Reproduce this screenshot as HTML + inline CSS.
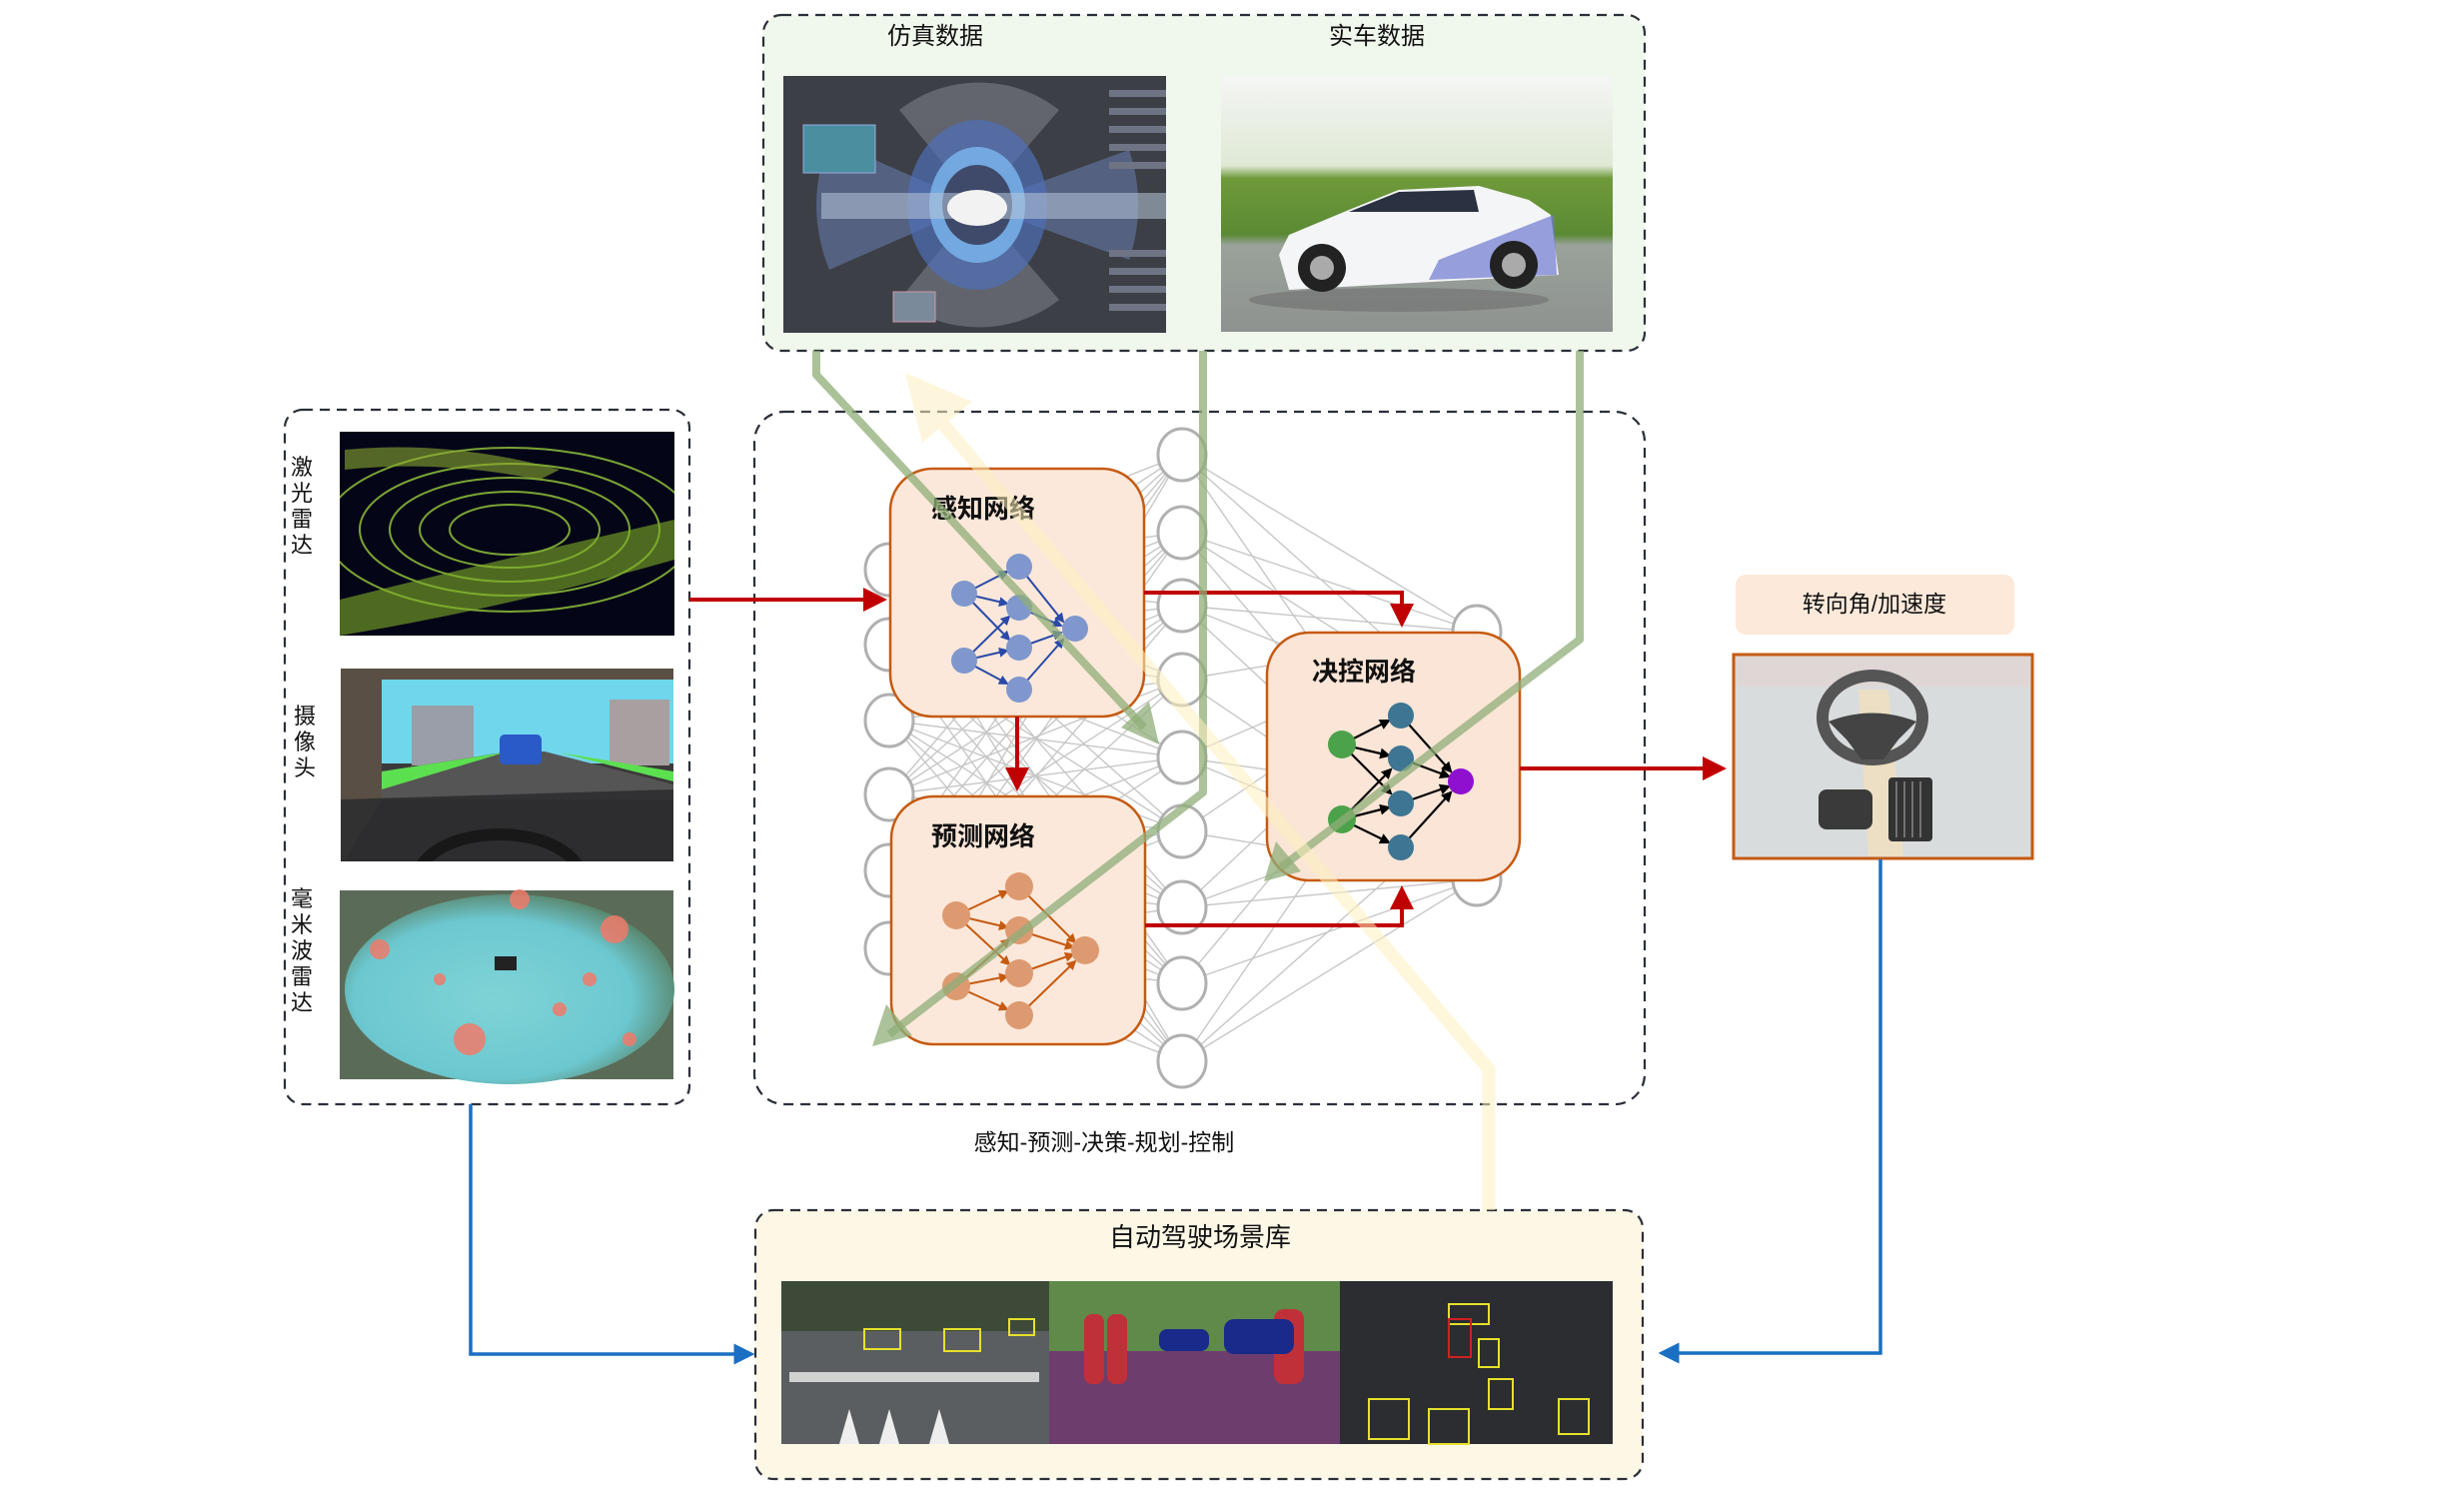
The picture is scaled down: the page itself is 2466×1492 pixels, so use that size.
<!DOCTYPE html>
<html><head><meta charset="utf-8"><style>
html,body{margin:0;padding:0;background:#fff;}
svg{display:block;}
text{font-family:"Liberation Sans","Noto Sans CJK SC",sans-serif;}
</style></head><body>
<svg width="2466" height="1492" viewBox="0 0 2466 1492" xmlns="http://www.w3.org/2000/svg">
<defs>
<marker id="ar" markerWidth="6" markerHeight="6" refX="5" refY="3" orient="auto" markerUnits="strokeWidth"><path d="M0,0 L6,3 L0,6 z" fill="#c00000"/></marker>
<marker id="ab" markerWidth="6" markerHeight="6" refX="5" refY="3" orient="auto" markerUnits="strokeWidth"><path d="M0,0 L6,3 L0,6 z" fill="#1a6fc4"/></marker>
<marker id="an" markerWidth="5" markerHeight="5" refX="4" refY="2.5" orient="auto" markerUnits="strokeWidth"><path d="M0,0 L5,2.5 L0,5 z" fill="context-stroke"/></marker>
<radialGradient id="radar" cx="0.45" cy="0.55" r="0.6"><stop offset="0" stop-color="#7fd3d6"/><stop offset="0.7" stop-color="#6cc8d0"/><stop offset="1" stop-color="#557a5a"/></radialGradient>
<linearGradient id="sky" x1="0" y1="0" x2="0" y2="1"><stop offset="0" stop-color="#f4f6f4"/><stop offset="0.35" stop-color="#dfe9d6"/><stop offset="0.4" stop-color="#6f9a3a"/><stop offset="0.62" stop-color="#5b8a34"/><stop offset="0.66" stop-color="#9aa29a"/><stop offset="1" stop-color="#8e9290"/></linearGradient>
<clipPath id="cl"><rect x="340" y="432" width="335" height="204"/></clipPath>
<clipPath id="cc"><rect x="341" y="669" width="333" height="193"/></clipPath>
<clipPath id="cs"><rect x="784" y="76" width="383" height="257"/></clipPath>
</defs>

<!-- top box -->
<rect x="764" y="15" width="882" height="336" rx="18" fill="#f0f7ec" stroke="#2b2f38" stroke-width="2.2" stroke-dasharray="10,7"/>
<text x="936" y="44" font-size="24" text-anchor="middle" fill="#111">仿真数据</text>
<text x="1378" y="44" font-size="24" text-anchor="middle" fill="#111">实车数据</text>
<!-- sim image -->
<g clip-path="url(#cs)">
<rect x="784" y="76" width="383" height="257" fill="#3c3f45"/>
<g opacity="0.8">
<path d="M978,205 L900,110 A130,130 0 0 1 1060,110 Z" fill="#6b6e78"/>
<path d="M978,205 L900,300 A130,130 0 0 0 1060,300 Z" fill="#6b6e78"/>
<path d="M978,205 L830,140 A170,170 0 0 0 830,270 Z" fill="#5a6a90"/>
<path d="M978,205 L1130,150 A170,170 0 0 1 1130,260 Z" fill="#5a6a90"/>
</g>
<ellipse cx="978" cy="205" rx="70" ry="85" fill="#4f6fb8" opacity="0.7"/>
<ellipse cx="978" cy="205" rx="48" ry="58" fill="#7cb8f0" opacity="0.8"/>
<ellipse cx="978" cy="205" rx="35" ry="40" fill="#3f4a6a"/>
<rect x="822" y="193" width="350" height="26" fill="#b8c6d8" opacity="0.55"/>
<ellipse cx="978" cy="208" rx="30" ry="18" fill="#f2f2f2"/>
<rect x="804" y="125" width="72" height="48" fill="#4a8ea0" stroke="#9ad" stroke-width="1"/>
<rect x="894" y="292" width="42" height="30" fill="#7a8a9a" stroke="#c9a" stroke-width="1"/>
<g fill="#6f7485"><rect x="1110" y="90" width="62" height="7"/><rect x="1110" y="108" width="62" height="7"/><rect x="1110" y="126" width="62" height="7"/><rect x="1110" y="144" width="62" height="7"/><rect x="1110" y="162" width="62" height="7"/><rect x="1110" y="250" width="62" height="7"/><rect x="1110" y="268" width="62" height="7"/><rect x="1110" y="286" width="62" height="7"/><rect x="1110" y="304" width="62" height="7"/></g>
</g>
<!-- real image -->
<rect x="1222" y="76" width="392" height="256" fill="url(#sky)"/>
<ellipse cx="1400" cy="300" rx="150" ry="12" fill="#666" opacity="0.5"/>
<path d="M1280,255 L1290,235 L1350,210 L1400,190 L1480,186 L1530,200 L1552,215 L1560,275 L1290,290 Z" fill="#f4f5f7"/>
<path d="M1350,212 L1400,192 L1475,190 L1480,212 Z" fill="#2a3140"/>
<path d="M1440,260 L1555,215 L1558,275 L1430,280 Z" fill="#6d79d0" opacity="0.7"/>
<circle cx="1323" cy="268" r="24" fill="#222"/><circle cx="1323" cy="268" r="12" fill="#aaa"/>
<circle cx="1515" cy="265" r="24" fill="#222"/><circle cx="1515" cy="265" r="12" fill="#aaa"/>

<!-- left box -->
<rect x="285" y="410" width="405" height="695" rx="18" fill="none" stroke="#2b2f38" stroke-width="2.2" stroke-dasharray="10,7"/>
<g font-size="22" fill="#111" text-anchor="middle">
<text x="302" y="475">激</text><text x="302" y="501">光</text><text x="302" y="527">雷</text><text x="302" y="553">达</text>
<text x="305" y="724">摄</text><text x="305" y="750">像</text><text x="305" y="776">头</text>
<text x="302" y="907">毫</text><text x="302" y="933">米</text><text x="302" y="959">波</text><text x="302" y="985">雷</text><text x="302" y="1011">达</text>
</g>
<!-- lidar -->
<g clip-path="url(#cl)">
<rect x="340" y="432" width="335" height="204" fill="#050518"/>
<g fill="none" stroke="#8fc23a" stroke-width="2" opacity="0.85">
<ellipse cx="510" cy="530" rx="60" ry="25"/><ellipse cx="510" cy="530" rx="90" ry="38"/><ellipse cx="510" cy="530" rx="120" ry="52"/><ellipse cx="510" cy="530" rx="150" ry="66"/><ellipse cx="510" cy="530" rx="185" ry="82"/>
</g>
<ellipse cx="510" cy="530" rx="48" ry="20" fill="#050518"/>
<path d="M340,600 Q500,560 675,520 L675,560 Q500,610 340,636 Z" fill="#7fae28" opacity="0.6"/>
<path d="M345,450 Q450,440 560,470 L540,480 Q440,460 345,470 Z" fill="#8aa830" opacity="0.6"/>
</g>
<!-- camera -->
<g clip-path="url(#cc)">
<rect x="341" y="669" width="333" height="193" fill="#3a3a3a"/>
<rect x="382" y="679" width="292" height="85" fill="#70d6ec"/>
<rect x="412" y="706" width="62" height="60" fill="#9a9ea8"/><rect x="610" y="700" width="60" height="66" fill="#a8a0a0"/>
<path d="M382,772 L510,752 L545,752 L674,785 L674,800 L382,800 Z" fill="#555"/>
<path d="M382,772 L505,753 L382,790 Z" fill="#5ce050"/><path d="M560,753 L674,772 L674,782 Z" fill="#5ce050"/>
<rect x="500" y="735" width="42" height="30" rx="5" fill="#2a5ac8"/>
<path d="M341,669 L674,669 L674,680 L382,680 L382,800 L345,860 L341,860 Z" fill="#5a4f44"/>
<path d="M341,800 L674,790 L674,862 L341,862 Z" fill="#2c2c2e" opacity="0.85"/>
<ellipse cx="500" cy="880" rx="82" ry="45" fill="none" stroke="#181818" stroke-width="12"/>
</g>
<!-- radar -->
<rect x="340" y="891" width="334" height="189" fill="#5a6c58"/>
<ellipse cx="510" cy="990" rx="165" ry="95" fill="url(#radar)"/>
<g fill="#f07a6a" opacity="0.85"><circle cx="470" cy="1040" r="16"/><circle cx="520" cy="900" r="10"/><circle cx="615" cy="930" r="14"/><circle cx="380" cy="950" r="10"/><circle cx="560" cy="1010" r="7"/><circle cx="590" cy="980" r="7"/><circle cx="630" cy="1040" r="7"/><circle cx="440" cy="980" r="6"/></g>
<rect x="495" y="957" width="22" height="14" fill="#222"/>

<!-- middle box -->
<rect x="755" y="412" width="891" height="693" rx="30" fill="none" stroke="#2b2f38" stroke-width="2.2" stroke-dasharray="10,7"/>
<!-- background neural net -->
<g stroke="#b5b5b5" stroke-width="1.4" opacity="0.75" fill="none">
<path d="M890,570 L1183,455 M890,570 L1183,533 M890,570 L1183,606 M890,570 L1183,680 M890,570 L1183,758 M890,570 L1183,832 M890,570 L1183,908 M890,570 L1183,984 M890,570 L1183,1062"/>
<path d="M890,645 L1183,455 M890,645 L1183,533 M890,645 L1183,606 M890,645 L1183,680 M890,645 L1183,758 M890,645 L1183,832 M890,645 L1183,908 M890,645 L1183,984 M890,645 L1183,1062"/>
<path d="M890,721 L1183,455 M890,721 L1183,533 M890,721 L1183,606 M890,721 L1183,680 M890,721 L1183,758 M890,721 L1183,832 M890,721 L1183,908 M890,721 L1183,984 M890,721 L1183,1062"/>
<path d="M890,795 L1183,455 M890,795 L1183,533 M890,795 L1183,606 M890,795 L1183,680 M890,795 L1183,758 M890,795 L1183,832 M890,795 L1183,908 M890,795 L1183,984 M890,795 L1183,1062"/>
<path d="M890,871 L1183,455 M890,871 L1183,533 M890,871 L1183,606 M890,871 L1183,680 M890,871 L1183,758 M890,871 L1183,832 M890,871 L1183,908 M890,871 L1183,984 M890,871 L1183,1062"/>
<path d="M890,949 L1183,455 M890,949 L1183,533 M890,949 L1183,606 M890,949 L1183,680 M890,949 L1183,758 M890,949 L1183,832 M890,949 L1183,908 M890,949 L1183,984 M890,949 L1183,1062"/>
<path d="M1183,455 L1478,632 M1183,533 L1478,632 M1183,606 L1478,632 M1183,680 L1478,632 M1183,758 L1478,632 M1183,832 L1478,632 M1183,908 L1478,632 M1183,984 L1478,632 M1183,1062 L1478,632"/>
<path d="M1183,455 L1478,880 M1183,533 L1478,880 M1183,606 L1478,880 M1183,680 L1478,880 M1183,758 L1478,880 M1183,832 L1478,880 M1183,908 L1478,880 M1183,984 L1478,880 M1183,1062 L1478,880"/>
<path d="M1183,455 L1478,720 M1183,533 L1478,720 M1183,606 L1478,720 M1183,758 L1478,800 M1183,908 L1478,800 M1183,1062 L1478,800"/>
</g>
<g fill="#fff" stroke="#b0b0b0" stroke-width="3">
<ellipse cx="890" cy="570" rx="24" ry="26"/><ellipse cx="890" cy="645" rx="24" ry="26"/><ellipse cx="890" cy="721" rx="24" ry="26"/><ellipse cx="890" cy="795" rx="24" ry="26"/><ellipse cx="890" cy="871" rx="24" ry="26"/><ellipse cx="890" cy="949" rx="24" ry="26"/>
<ellipse cx="1183" cy="455" rx="24" ry="26"/><ellipse cx="1183" cy="533" rx="24" ry="26"/><ellipse cx="1183" cy="606" rx="24" ry="26"/><ellipse cx="1183" cy="680" rx="24" ry="26"/><ellipse cx="1183" cy="758" rx="24" ry="26"/><ellipse cx="1183" cy="832" rx="24" ry="26"/><ellipse cx="1183" cy="908" rx="24" ry="26"/><ellipse cx="1183" cy="984" rx="24" ry="26"/><ellipse cx="1183" cy="1062" rx="24" ry="26"/>
<ellipse cx="1478" cy="632" rx="24" ry="26"/><ellipse cx="1478" cy="880" rx="24" ry="26"/>
</g>

<!-- 感知 box -->
<rect x="891" y="469" width="254" height="248" rx="42" fill="#fce8da" stroke="#c55a11" stroke-width="2.5"/>
<text x="932" y="518" font-size="26" font-weight="bold" fill="#111">感知网络</text>
<g stroke="#2a4aa8" stroke-width="2" marker-end="url(#an)">
<line x1="965" y1="594" x2="1008" y2="572"/><line x1="965" y1="594" x2="1008" y2="604"/><line x1="965" y1="594" x2="1010" y2="640"/>
<line x1="965" y1="661" x2="1010" y2="617"/><line x1="965" y1="661" x2="1008" y2="651"/><line x1="965" y1="661" x2="1008" y2="684"/>
<line x1="1020" y1="567" x2="1064" y2="622"/><line x1="1020" y1="608" x2="1062" y2="626"/><line x1="1020" y1="648" x2="1062" y2="633"/><line x1="1020" y1="690" x2="1064" y2="640"/>
</g>
<g fill="#7f97cc"><circle cx="965" cy="594" r="13"/><circle cx="965" cy="661" r="13"/><circle cx="1020" cy="567" r="13"/><circle cx="1020" cy="608" r="13"/><circle cx="1020" cy="648" r="13"/><circle cx="1020" cy="690" r="13"/><circle cx="1076" cy="629" r="13"/></g>

<!-- 预测 box -->
<rect x="892" y="797" width="254" height="248" rx="42" fill="#fce8da" stroke="#c55a11" stroke-width="2.5"/>
<text x="932" y="846" font-size="26" font-weight="bold" fill="#111">预测网络</text>
<g stroke="#c55a11" stroke-width="2" marker-end="url(#an)">
<line x1="957" y1="916" x2="1008" y2="892"/><line x1="957" y1="916" x2="1008" y2="928"/><line x1="957" y1="916" x2="1010" y2="965"/>
<line x1="957" y1="987" x2="1010" y2="940"/><line x1="957" y1="987" x2="1008" y2="977"/><line x1="957" y1="987" x2="1008" y2="1010"/>
<line x1="1020" y1="887" x2="1076" y2="943"/><line x1="1020" y1="931" x2="1074" y2="948"/><line x1="1020" y1="974" x2="1074" y2="955"/><line x1="1020" y1="1016" x2="1076" y2="962"/>
</g>
<g fill="#dd9a70"><circle cx="957" cy="916" r="14"/><circle cx="957" cy="987" r="14"/><circle cx="1020" cy="887" r="14"/><circle cx="1020" cy="931" r="14"/><circle cx="1020" cy="974" r="14"/><circle cx="1020" cy="1016" r="14"/><circle cx="1086" cy="951" r="14"/></g>

<!-- 决控 box -->
<rect x="1268" y="633" width="253" height="248" rx="42" fill="#fbe5d6" stroke="#c55a11" stroke-width="2.5"/>
<text x="1313" y="681" font-size="26" font-weight="bold" fill="#111">决控网络</text>
<g stroke="#000" stroke-width="2.2" marker-end="url(#an)">
<line x1="1343" y1="745" x2="1390" y2="721"/><line x1="1343" y1="745" x2="1390" y2="756"/><line x1="1343" y1="745" x2="1392" y2="794"/>
<line x1="1343" y1="820" x2="1392" y2="770"/><line x1="1343" y1="820" x2="1390" y2="808"/><line x1="1343" y1="820" x2="1390" y2="843"/>
<line x1="1402" y1="716" x2="1452" y2="772"/><line x1="1402" y1="759" x2="1450" y2="777"/><line x1="1402" y1="804" x2="1450" y2="787"/><line x1="1402" y1="848" x2="1452" y2="793"/>
</g>
<g><circle cx="1343" cy="745" r="14" fill="#4ca24a"/><circle cx="1343" cy="820" r="14" fill="#4ca24a"/><circle cx="1402" cy="716" r="13" fill="#3d7593"/><circle cx="1402" cy="759" r="13" fill="#3d7593"/><circle cx="1402" cy="804" r="13" fill="#3d7593"/><circle cx="1402" cy="848" r="13" fill="#3d7593"/><circle cx="1462" cy="782" r="13" fill="#9010d0"/></g>

<!-- red arrows -->
<g stroke="#c00000" stroke-width="4" fill="none" marker-end="url(#ar)">
<path d="M690,600 L884,600"/>
<path d="M1145,593 L1403,593 L1403,624"/>
<path d="M1018,717 L1018,788"/>
<path d="M1146,926 L1403,926 L1403,890"/>
<path d="M1521,769 L1724,769"/>
</g>

<!-- output -->
<rect x="1737" y="575" width="279" height="60" rx="10" fill="#fde9da"/>
<text x="1876" y="612" font-size="23" text-anchor="middle" fill="#111">转向角/加速度</text>
<rect x="1735" y="655" width="299" height="204" fill="#d9dcdd" stroke="#c55a11" stroke-width="3"/>
<rect x="1737" y="657" width="295" height="30" fill="#e6d0d0" opacity="0.5"/>
<path d="M1860,690 L1890,690 L1905,857 L1870,857 Z" fill="#f3dfb8" opacity="0.7"/>
<ellipse cx="1874" cy="718" rx="50" ry="42" fill="none" stroke="#555" stroke-width="12"/>
<path d="M1830,722 Q1874,705 1918,722 L1900,740 L1885,760 L1863,760 L1848,740 Z" fill="#444"/>
<rect x="1820" y="790" width="54" height="40" rx="8" fill="#3a3a3a"/>
<rect x="1890" y="778" width="44" height="64" rx="4" fill="#333"/>
<g stroke="#888" stroke-width="1.5"><line x1="1898" y1="782" x2="1898" y2="838"/><line x1="1906" y1="782" x2="1906" y2="838"/><line x1="1914" y1="782" x2="1914" y2="838"/><line x1="1922" y1="782" x2="1922" y2="838"/></g>

<!-- caption -->
<text x="1105" y="1151" font-size="23" text-anchor="middle" fill="#111">感知-预测-决策-规划-控制</text>

<!-- bottom box -->
<rect x="756" y="1211" width="888" height="269" rx="18" fill="#fdf7e6" stroke="#2b2f38" stroke-width="2.2" stroke-dasharray="10,7"/>
<text x="1201" y="1247" font-size="26" text-anchor="middle" fill="#111">自动驾驶场景库</text>
<rect x="782" y="1282" width="268" height="163" fill="#5a5e60"/>
<rect x="782" y="1282" width="268" height="50" fill="#3e4a38"/>
<g fill="#eee"><rect x="790" y="1373" width="250" height="10" opacity="0.8"/><path d="M840,1445 L850,1410 L860,1445 Z"/><path d="M880,1445 L890,1410 L900,1445 Z"/><path d="M930,1445 L940,1410 L950,1445 Z"/></g>
<g fill="none" stroke="#e6e02a" stroke-width="2"><rect x="865" y="1330" width="36" height="20"/><rect x="945" y="1330" width="36" height="22"/><rect x="1010" y="1320" width="25" height="16"/></g>
<rect x="1050" y="1282" width="291" height="163" fill="#6a3a68"/>
<rect x="1050" y="1282" width="291" height="70" fill="#5f8a4a"/>
<rect x="1050" y="1352" width="291" height="93" fill="#6d3d6e"/>
<g fill="#c03038"><rect x="1085" y="1315" width="20" height="70" rx="8"/><rect x="1108" y="1315" width="20" height="70" rx="8"/><rect x="1275" y="1310" width="30" height="75" rx="10"/></g>
<g fill="#1a2a8a"><rect x="1225" y="1320" width="70" height="35" rx="10"/><rect x="1160" y="1330" width="50" height="22" rx="8"/></g>
<rect x="1341" y="1282" width="273" height="163" fill="#2b2d30"/>
<g fill="none" stroke="#e6e02a" stroke-width="2"><rect x="1480" y="1340" width="20" height="28"/><rect x="1490" y="1380" width="24" height="30"/><rect x="1370" y="1400" width="40" height="40"/><rect x="1430" y="1410" width="40" height="35"/><rect x="1560" y="1400" width="30" height="35"/><rect x="1450" y="1305" width="40" height="20"/></g>
<rect x="1450" y="1320" width="22" height="38" fill="none" stroke="#d02020" stroke-width="2"/>

<!-- blue lines -->
<g stroke="#1a6fc4" stroke-width="3.5" fill="none" marker-end="url(#ab)">
<path d="M471,1105 L471,1355 L752,1355"/>
<path d="M1882,860 L1882,1354 L1663,1354"/>
</g>

<!-- green thick lines -->
<g stroke="#8fae78" stroke-width="8" fill="none" opacity="0.75" stroke-linejoin="round">
<path d="M817,351 L817,375 L1145,728"/>
<path d="M1204,351 L1204,793 L890,1035"/>
<path d="M1581,351 L1581,640 L1282,868"/>
</g>
<g fill="#8fae78" opacity="0.75">
<path d="M1160,745 L1150,702 L1122,728 Z"/>
<path d="M873,1047 L887,1005 L913,1036 Z"/>
<path d="M1265,882 L1277,842 L1302,872 Z"/>
</g>
<!-- yellow line -->
<g opacity="0.55">
<path d="M1490,1211 L1490,1070 L930,408" stroke="#fdf0c0" stroke-width="13" fill="none" stroke-linejoin="round"/>
<path d="M906,373 L923,443 L973,402 Z" fill="#fdf0c0"/>
</g>
</svg>
</body></html>
